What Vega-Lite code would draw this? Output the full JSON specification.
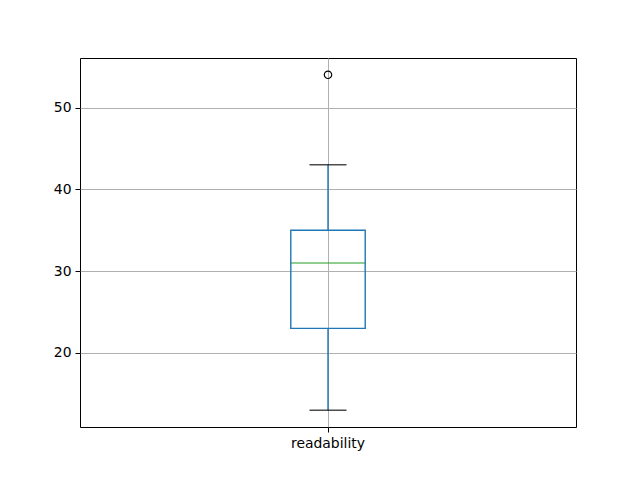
{
  "$schema": "https://vega.github.io/schema/vega-lite/v6.json",
  "width": 496,
  "height": 369,
  "autosize": {"type": "none"},
  "padding": {"left": 80, "top": 58, "right": 64, "bottom": 53},
  "background": "white",
  "config": {
    "font": "DejaVu Sans",
    "view": {"stroke": "black", "strokeWidth": 1},
    "axis": {
      "domain": false,
      "tickColor": "black",
      "tickSize": 5,
      "tickWidth": 1,
      "labelColor": "black",
      "labelFontSize": 13.9,
      "labelFont": "DejaVu Sans",
      "labelPadding": 4,
      "grid": true,
      "gridColor": "#b0b0b0",
      "gridWidth": 1,
      "title": null
    }
  },
  "datasets": {
    "box": [
      {"label": "readability", "min": 13, "q1": 23, "median": 31, "q3": 35, "max": 43}
    ],
    "outliers": [
      {"label": "readability", "value": 54}
    ]
  },
  "encoding": {
    "x": {
      "field": "label",
      "type": "nominal",
      "scale": {"paddingInner": 0, "paddingOuter": 0},
      "axis": {"labelAngle": 0, "title": null}
    }
  },
  "layer": [
    {
      "data": {"name": "box"},
      "mark": {"type": "rule", "color": "#1f77b4", "strokeWidth": 1.4},
      "encoding": {
        "y": {"field": "min", "type": "quantitative", "scale": {"domain": [10.95, 56.05], "nice": false, "zero": false}, "axis": {"values": [20, 30, 40, 50], "title": null}},
        "y2": {"field": "q1"}
      }
    },
    {
      "data": {"name": "box"},
      "mark": {"type": "rule", "color": "#1f77b4", "strokeWidth": 1.4},
      "encoding": {
        "y": {"field": "q3", "type": "quantitative"},
        "y2": {"field": "max"}
      }
    },
    {
      "data": {"name": "box"},
      "mark": {"type": "bar", "width": {"band": 0.15}, "fill": null, "fillOpacity": 0, "stroke": "#1f77b4", "strokeWidth": 1.4},
      "encoding": {
        "y": {"field": "q1", "type": "quantitative"},
        "y2": {"field": "q3"}
      }
    },
    {
      "data": {"name": "box"},
      "mark": {"type": "tick", "color": "black", "size": 37, "thickness": 1.4},
      "encoding": {
        "y": {"field": "min", "type": "quantitative"}
      }
    },
    {
      "data": {"name": "box"},
      "mark": {"type": "tick", "color": "black", "size": 37, "thickness": 1.4},
      "encoding": {
        "y": {"field": "max", "type": "quantitative"}
      }
    },
    {
      "data": {"name": "box"},
      "mark": {"type": "tick", "color": "#2ca02c", "size": 74, "thickness": 1.4},
      "encoding": {
        "y": {"field": "median", "type": "quantitative"}
      }
    },
    {
      "data": {"name": "outliers"},
      "mark": {"type": "point", "shape": "circle", "filled": false, "stroke": "black", "strokeWidth": 1.2, "size": 55, "opacity": 1},
      "encoding": {
        "y": {"field": "value", "type": "quantitative"}
      }
    }
  ]
}
